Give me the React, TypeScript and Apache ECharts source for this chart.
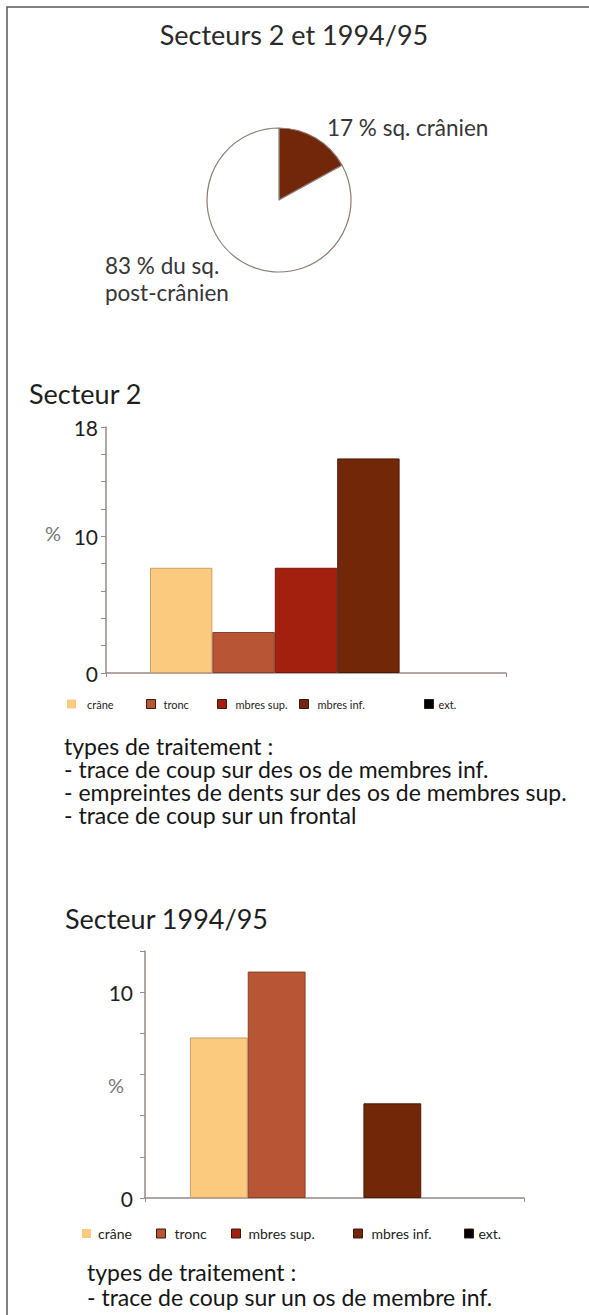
import React, { useEffect, useRef } from "react";
import * as echarts from "echarts";

const mainTitle = "Secteurs 2 et 1994/95";
const pieNames = ["sq. crânien", "sq. post-crânien"];
const pieValues = [17, 83];
const pieColors = ["#72260A", "#FFFFFF"];
const pieLabelLines = [["17 % sq. crânien"], ["83 % du sq.", "post-crânien"]];

const categories = ["crâne", "tronc", "mbres sup.", "mbres inf.", "ext."];
const barColors = ["#FCCA7E", "#B85535", "#A2200D", "#722709", "#000000"];
const barBorders = ["#C9A06A", "#8A3F28", "#761A0C", "#4F1B07", "#000000"];

const secteur2Title = "Secteur 2";
const secteur2Values = [7.7, 3.0, 7.7, 15.7, 0];
const secteur2Max = 18;
const secteur2Labels = [0, 10, 18];
const secteur2Text = [
  "types de traitement :",
  "- trace de coup sur des os de membres inf.",
  "- empreintes de dents sur des os de membres sup.",
  "- trace de coup sur un frontal",
];

const secteur9495Title = "Secteur 1994/95";
const secteur9495Values = [7.8, 11.0, 0, 4.6, 0];
const secteur9495Max = 12;
const secteur9495Labels = [0, 10];
const secteur9495Text = [
  "types de traitement :",
  "- trace de coup sur un os de membre inf.",
];

const FONT = "Lato, 'Open Sans', sans-serif";

export default function App() {
  const ref = useRef<HTMLDivElement>(null);

  useEffect(() => {
    if (!ref.current) return;
    const chart = echarts.init(ref.current, null, { renderer: "svg" });

    const text = (
      x: number,
      y: number,
      t: string,
      size: number,
      fill = "#2a2a2a",
      align = "left",
      lineHeight?: number
    ) => ({
      type: "text",
      x,
      y,
      silent: true,
      style: {
        text: t,
        fontSize: size,
        fontFamily: FONT,
        fill,
        textAlign: align,
        textVerticalAlign: lineHeight ? "top" : "middle",
        lineHeight: lineHeight,
      },
    });

    const graphics: any[] = [
      {
        type: "rect",
        silent: true,
        shape: { x: 7, y: 7, width: 800, height: 1500 },
        style: { fill: "none", stroke: "#555555", lineWidth: 1.5 },
      },
      text(294, 34, mainTitle, 27, "#2a2a2a", "center"),
      text(327, 127, pieLabelLines[0][0], 22.5, "#363636"),
      text(105, 251.5, pieLabelLines[1].join("\n"), 22.5, "#363636", "left", 27),
      text(29, 393, secteur2Title, 27, "#1e1e1e"),
      text(45, 533, "%", 20, "#777"),
      text(65, 918, secteur9495Title, 27, "#1e1e1e"),
      text(108, 1085, "%", 20, "#777"),
      text(64, 734.5, secteur2Text.join("\n"), 23, "#161616", "left", 23),
      text(87, 1259.5, secteur9495Text.join("\n"), 23, "#161616", "left", 25),
    ];

    const legendPos1 = [
      [67, 6], [146, 3], [217, 4], [299, 4], [424, 0],
    ];
    const legendPos2 = [
      [82, 2], [156, 4], [231, 3], [353, 4], [464, 0],
    ];
    const legends: any[] = [];
    const mkLegend = (i: number, left: number, pad: number, cy: number, fs: number) => ({
      data: [{
        name: categories[i],
        itemStyle: i === 0
          ? { color: barColors[i], borderWidth: 0 }
          : { color: barColors[i], borderColor: "#3a1a10", borderWidth: 1 },
      }],
      left,
      top: cy - 6.5,
      padding: 0,
      icon: "rect",
      itemWidth: 9,
      itemHeight: 9,
      selectedMode: false,
      textStyle: { fontSize: fs, fontFamily: FONT, color: "#222", padding: [0, 0, 0, pad] },
    });
    legendPos1.forEach(([l, p], i) => legends.push(mkLegend(i, l, p, 705, 11)));
    legendPos2.forEach(([l, p], i) => legends.push(mkLegend(i, l, p, 1233, 14)));

    const axisColor = "#968989";
    const mkY = (gridIndex: number, max: number, labels: number[], margin: number) => ({
      type: "value",
      gridIndex,
      min: 0,
      max,
      interval: 2,
      splitLine: { show: false },
      axisLine: { show: true, lineStyle: { color: axisColor, width: 1.5 } },
      axisTick: { show: true, length: 5, lineStyle: { color: axisColor, width: 1 } },
      axisLabel: {
        margin,
        fontSize: 21,
        fontFamily: FONT,
        color: "#1e1e1e",
        showMaxLabel: true,
        formatter: (v: number) => (labels.includes(v) ? String(v) : ""),
      },
    });
    const mkX = (gridIndex: number) => ({
      type: "category",
      gridIndex,
      data: [""],
      axisLine: { show: true, lineStyle: { color: axisColor, width: 1.5 } },
      axisTick: { show: true, length: 4, lineStyle: { color: axisColor, width: 1 } },
      axisLabel: { show: false },
    });

    const barSeries: any[] = [];
    categories.forEach((name, i) => {
      barSeries.push({
        type: "bar",
        name,
        xAxisIndex: 0,
        yAxisIndex: 0,
        barGap: "0%",
        barCategoryGap: "22%",
        silent: true,
        itemStyle: { color: barColors[i], borderColor: barBorders[i], borderWidth: 1 },
        data: [secteur2Values[i] === 0 ? null : secteur2Values[i]],
      });
    });
    categories.forEach((name, i) => {
      barSeries.push({
        type: "bar",
        name,
        xAxisIndex: 1,
        yAxisIndex: 1,
        barGap: "0%",
        barCategoryGap: "23.7%",
        silent: true,
        itemStyle: { color: barColors[i], borderColor: barBorders[i], borderWidth: 1 },
        data: [secteur9495Values[i] === 0 ? null : secteur9495Values[i]],
      });
    });

    chart.setOption({
      animation: false,
      backgroundColor: "#ffffff",
      textStyle: { fontFamily: FONT },
      legend: legends,
      grid: [
        { left: 106, top: 427, width: 400, height: 246 },
        { left: 145, top: 951, width: 379, height: 247 },
      ],
      xAxis: [mkX(0), mkX(1)],
      yAxis: [mkY(0, secteur2Max, secteur2Labels, 8), mkY(1, secteur9495Max, secteur9495Labels, 12)],
      series: [
        {
          type: "pie",
          center: [279, 200],
          radius: 72,
          startAngle: 90,
          clockwise: true,
          silent: true,
          label: { show: false },
          labelLine: { show: false },
          itemStyle: { borderColor: "#8d7b73", borderWidth: 1.2 },
          data: pieNames.map((n, i) => ({ name: n, value: pieValues[i], itemStyle: { color: pieColors[i] } })),
        },
        ...barSeries,
      ],
      graphic: graphics,
    });

    return () => chart.dispose();
  }, []);

  return (
    <div
      ref={ref}
      style={{ position: "absolute", left: 0, top: 0, width: 589, height: 1315, background: "#fff" }}
    />
  );
}
